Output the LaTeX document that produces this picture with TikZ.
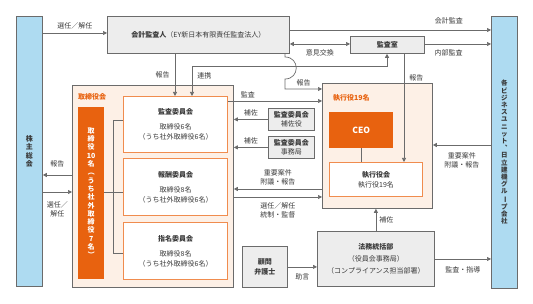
\documentclass[tikz,border=0pt]{standalone}
\usepackage{fontspec}
\setmainfont{Noto Sans CJK JP}
\usepackage{graphicx}
\usepackage{xcolor}
\usetikzlibrary{arrows.meta, positioning, calc}
\definecolor{HBOrange}{HTML}{E8620F}
\definecolor{HBOrangeLine}{HTML}{F08C4E}
\definecolor{HBOrangeBg}{HTML}{FDF0E6}
\definecolor{HBGray}{HTML}{EDEDED}
\definecolor{HBGrayLine}{HTML}{6B6B6B}
\definecolor{HBBlue}{HTML}{AEDBF1}
\definecolor{HBText}{HTML}{3A3A3A}
\newcommand{\vrot}[1]{\rotatebox[origin=c]{-90}{#1}}
\tikzset{
    % Box styles - all sharp corners
    graybox/.style={
        rectangle,
        draw=HBGrayLine,
        fill=HBGray,
        line width=0.8pt,
        anchor=north west,
        inner sep=0pt,
        align=center,
        text=HBText,
        font=\fontsize{7}{10}\selectfont
    },
    bluebox/.style={
        rectangle,
        draw=HBGrayLine,
        fill=HBBlue,
        line width=0.8pt,
        anchor=north west,
        inner sep=0pt,
        align=center,
        text=HBText,
        font=\bfseries\fontsize{7}{8.3}\selectfont
    },
    groupbox/.style={
        rectangle,
        draw=HBGrayLine,
        fill=HBOrangeBg,
        line width=0.8pt,
        anchor=north west,
        inner sep=0pt
    },
    committee/.style={
        rectangle,
        draw=HBOrangeLine,
        fill=white,
        line width=1.3pt,
        anchor=north west,
        inner sep=0pt,
        align=center,
        text=HBText,
        font=\fontsize{7}{10}\selectfont
    },
    solidorange/.style={
        rectangle,
        fill=HBOrange,
        anchor=north west,
        inner sep=0pt,
        align=center,
        text=white,
        font=\bfseries\fontsize{7}{8.3}\selectfont
    },
    grouptitle/.style={
        anchor=west,
        inner sep=0pt,
        text=HBOrange,
        font=\bfseries\fontsize{7}{8}\selectfont
    },
    lbl/.style={
        inner sep=0pt,
        align=center,
        text=HBText,
        font=\fontsize{7}{9}\selectfont
    },
    % Arrow styles - straight lines only
    arrow/.style={
        -{Triangle[length=4pt,width=4pt]},
        line width=0.7pt,
        draw=HBGrayLine
    },
    biarrow/.style={
        {Triangle[length=4pt,width=4pt]}-{Triangle[length=4pt,width=4pt]},
        line width=0.7pt,
        draw=HBGrayLine
    },
    link/.style={
        line width=0.7pt,
        draw=HBGrayLine
    }
}

\begin{document}
\begin{tikzpicture}[x=1pt, y=-1pt]
    \useasboundingbox (0,0) rectangle (533,304);

    % shareholders and business units
    \node[bluebox, minimum width=26pt, minimum height=270pt] (agm) at (16,16) {株\\主\\総\\会};
    \node[bluebox, minimum width=26pt, minimum height=272pt, font=\bfseries\fontsize{6.5}{7.2}\selectfont] (bu) at (491,16)
        {各\\ビ\\ジ\\ネ\\ス\\ユ\\ニ\\ッ\\ト\\︑\\日\\立\\建\\機\\グ\\ル\\\vrot{ー}\\プ\\会\\社};

    % auditors
    \node[graybox, minimum width=182pt, minimum height=37pt] (auditor) at (107,16) {\textbf{会計監査人}（EY新日本有限責任監査法人）};
    \node[graybox, minimum width=74pt, minimum height=17pt, font=\bfseries\fontsize{7}{10}\selectfont] (auditoffice) at (350,36) {監査室};

    % board of directors
    \node[groupbox, minimum width=161pt, minimum height=202pt] (board) at (72,85) {};
    \node[grouptitle] (boardtitle) at (78,97) {取締役会};
    \node[solidorange, minimum width=26pt, minimum height=172pt] (directors) at (78,107)
        {取\\締\\役\\10\\名\\\vrot{（}\\う\\ち\\社\\外\\取\\締\\役\\7\\名\\\vrot{）}};
    \node[committee, minimum width=104pt, minimum height=56pt] (acom) at (123,96) {\textbf{監査委員会}\\[5pt]取締役6名\\（うち社外取締役6名）};
    \node[committee, minimum width=104pt, minimum height=57pt] (ccom) at (123,158) {\textbf{報酬委員会}\\[5pt]取締役8名\\（うち社外取締役6名）};
    \node[committee, minimum width=104pt, minimum height=57pt] (ncom) at (123,222) {\textbf{指名委員会}\\[5pt]取締役8名\\（うち社外取締役6名）};

    \node[graybox, minimum width=46pt, minimum height=22pt, font=\fontsize{7}{9.5}\selectfont] (asst) at (268,108) {\textbf{監査委員会}\\補佐役};
    \node[graybox, minimum width=46pt, minimum height=22pt, font=\fontsize{7}{9.5}\selectfont] (secr) at (268,136) {\textbf{監査委員会}\\事務局};

    % executive officers
    \node[groupbox, minimum width=110pt, minimum height=125pt] (exec) at (322,83) {};
    \node[grouptitle] (exectitle) at (333,98) {執行役19名};
    \node[solidorange, minimum width=64pt, minimum height=36pt, font=\bfseries\fontsize{8.5}{10}\selectfont] (ceo) at (329,112) {CEO};
    \node[committee, minimum width=93pt, minimum height=34pt, line width=1pt] (execboard) at (329,162) {\textbf{執行役会}\\執行役19名};

    \node[graybox, minimum width=45pt, minimum height=41pt] (lawyer) at (242,246) {\textbf{顧問}\\\textbf{弁護士}};
    \node[graybox, minimum width=117pt, minimum height=55pt, font=\fontsize{7}{12}\selectfont] (legal) at (317,231) {\textbf{法務統括部}\\（役員会事務局）\\（コンプライアンス担当部署）};

    % shareholders
    \draw[arrow] (agm.east |- 0,33) -- (auditor.west |- 0,33) node[lbl, midway, above=4pt] {選任／解任};
    \draw[arrow] (board.west |- 0,175) -- (agm.east |- 0,175) node[lbl, midway, above=8pt] {報告};
    \draw[arrow] (agm.east |- 0,192) -- (board.west |- 0,192) node[lbl, midway, below=9pt] {選任／\\解任};

    % audit
    \draw[arrow] (auditor.east |- 0,30) -- (bu.west |- 0,30) node[lbl, pos=0.79, above=6pt] {会計監査};
    \draw[arrow] (auditoffice.east |- 0,44) -- (bu.west |- 0,44) node[lbl, pos=0.36, below=5.5pt] {内部監査};
    \draw[biarrow] (auditor.east |- 0,44) -- (auditoffice.west |- 0,44) node[lbl, midway, below=5.5pt] {意見交換};
    \draw[arrow] (auditor.south -| 175,0) -- (acom.north -| 175,0) node[lbl, midway, left=5pt] {報告};
    \draw[biarrow] (acom.north -| 192,0) -- ++(0,-30) node[lbl, anchor=north west, xshift=5pt, yshift=-6pt] {連携}
        -| (auditoffice.south -| 387,0);
    \draw[arrow] (auditor.south -| 285,0) -- (285,57) .. controls (300,57) and (300,79) .. (285,79)
        |- (exec.west |- 0,89) node[lbl, pos=0.75, above=3pt] {報告};
    \draw[arrow] (auditoffice.south -| 404,0) -- (execboard.north -| 404,0) node[lbl, pos=0.22, right=5pt] {報告};

    % board and executives
    \draw[arrow] (acom.east |- 0,101) -- (exec.west |- 0,101) node[lbl, pos=0.21, above=2.5pt] {監査};
    \draw[arrow] (asst.west) -- (board.east |- asst.west) node[lbl, midway, above=2.5pt] {補佐};
    \draw[arrow] (secr.west) -- (board.east |- secr.west) node[lbl, midway, above=2.5pt] {補佐};
    \draw[arrow] (exec.west |- 0,189) -- (board.east |- 0,189) node[lbl, midway, above=4pt] {重要案件\\附議・報告};
    \draw[arrow] (board.east |- 0,197) -- (exec.west |- 0,197) node[lbl, midway, below=5pt] {選任／解任\\統制・監督};
    \draw[arrow] (bu.west |- 0,145) -- (exec.east |- 0,145) node[lbl, midway, below=7.5pt] {重要案件\\附議・報告};
    \draw[link] (ceo.south) -- (execboard.north -| ceo.south);

    % legal
    \draw[arrow] (legal.north) -- (exec.south -| legal.north) node[lbl, midway, right=3pt] {補佐};
    \draw[arrow] (lawyer.east) -- (legal.west |- lawyer.east) node[lbl, midway, below=6.5pt] {助言};
    \draw[arrow] (legal.east |- 0,259) -- (bu.west |- 0,259) node[lbl, midway, below=7.5pt] {監査・指導};

    % directors to committees
    \draw[link] (directors.east |- 0,192) -- (ccom.west |- 0,192);
    \draw[link] (acom.west |- 0,120) -- ++(-10,0) |- (ncom.west |- 0,253);
\end{tikzpicture}
\end{document}
